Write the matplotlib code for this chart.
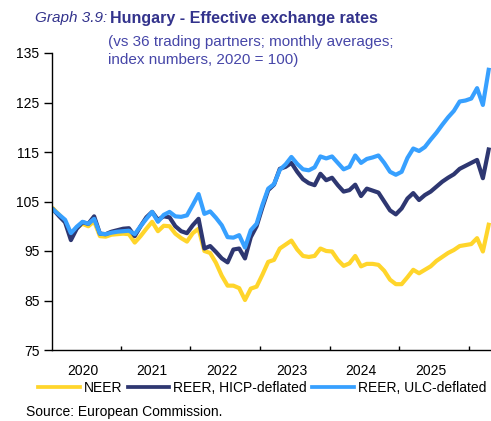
import numpy as np
import matplotlib.pyplot as plt

plt.rcParams['font.family'] = ['Liberation Sans', 'DejaVu Sans']

# monthly data, Jan 2020 onwards (2020 = 100)
years = ['2020', '2021', '2022', '2023', '2024', '2025']

neer = [103.5, 102.3, 101.0, 98.2, 99.7, 100.5, 100.0, 101.0, 98.0, 97.9,
        98.3, 98.4, 98.5, 98.4, 96.7, 98.0, 99.5, 100.9, 99.0, 100.1,
        100.0, 98.5, 97.6, 96.9, 98.6, 99.5, 95.0, 94.6, 92.6, 90.0,
        88.0, 88.0, 87.5, 85.1, 87.4, 87.8, 90.2, 92.8, 93.2, 95.5,
        96.3, 97.1, 95.3, 94.0, 93.8, 94.0, 95.5, 95.0, 94.9, 93.2,
        92.0, 92.5, 94.0, 91.9, 92.4, 92.4, 92.2, 91.0, 89.2, 88.3,
        88.3, 89.7, 91.2, 90.5, 91.2, 91.9, 93.0, 93.8, 94.6, 95.2,
        96.0, 96.2, 96.4, 97.6, 94.9, 100.3]

reer_hicp = [103.3, 102.0, 100.8, 97.2, 99.5, 100.8, 100.5, 102.0, 98.5, 98.4,
             98.9, 99.2, 99.5, 99.6, 98.0, 100.0, 101.8, 102.9, 101.3, 102.0,
             101.8, 100.0, 99.0, 98.6, 100.2, 101.5, 95.5, 96.0, 94.8, 93.5,
             92.7, 95.3, 95.5, 93.5, 97.8, 100.0, 103.8, 107.3, 108.4, 111.6,
             112.0, 112.8, 111.0, 109.5, 108.7, 108.3, 110.6, 109.3, 109.8, 108.3,
             107.0, 107.3, 108.4, 106.1, 107.6, 107.2, 106.8, 105.0, 103.2, 102.4,
             103.6, 105.6, 106.7, 105.3, 106.3, 107.0, 108.0, 109.0, 109.8, 110.5,
             111.6, 112.2, 112.8, 113.4, 109.7, 115.5]

reer_ulc = [103.3, 102.3, 101.3, 98.6, 99.9, 100.9, 100.5, 101.5, 98.5, 98.4,
            98.7, 98.9, 99.0, 99.1, 98.4, 100.0, 101.5, 102.9, 100.9, 102.3,
            102.9, 102.0, 101.9, 102.2, 104.3, 106.5, 102.5, 103.0, 101.7, 100.2,
            97.8, 97.7, 98.2, 95.7, 99.2, 100.5, 104.3, 107.6, 108.5, 111.4,
            112.5, 114.0, 112.6, 111.5, 111.3, 111.9, 114.1, 113.7, 114.1, 112.8,
            111.5, 112.0, 114.3, 112.8, 113.6, 113.9, 114.3, 112.8, 111.0, 110.4,
            111.0, 113.8, 115.7, 115.2, 116.0, 117.5, 118.9, 120.5, 122.0, 123.3,
            125.2, 125.4, 125.8, 127.9, 124.5, 131.6]

months = np.arange(len(neer))

fig = plt.figure(figsize=(4.91, 4.21), dpi=100)
ax = fig.add_axes([52 / 491, 71 / 421, 439 / 491, 297 / 421])

ax.plot(months, neer, color='#FFD52B', lw=3, solid_joinstyle='round', label='NEER')
ax.plot(months, reer_hicp, color='#2E3771', lw=3, solid_joinstyle='round',
        label='REER, HICP-deflated')
ax.plot(months, reer_ulc, color='#37A0FF', lw=3, solid_joinstyle='round',
        label='REER, ULC-deflated')

ax.set_ylim(75, 135)
ax.set_yticks(range(75, 136, 10))
ax.set_xlim(-0.26, 75.4)

ax.set_xticks([5 + 12 * i for i in range(len(years))])
ax.set_xticklabels(years)
ax.set_xticks([11.6 + 12 * i for i in range(len(years))], minor=True)
ax.tick_params(axis='x', which='major', length=0, pad=10, labelsize=10)
ax.tick_params(axis='x', which='minor', direction='in', length=3, width=1)
ax.tick_params(axis='y', direction='out', length=6, width=1, pad=3, labelsize=10)

for s in ['top', 'right']:
    ax.spines[s].set_visible(False)
for s in ['left', 'bottom']:
    ax.spines[s].set_linewidth(1)

leg = fig.legend(loc='center', bbox_to_anchor=(0.534, 1 - 388 / 421), ncol=3,
                 frameon=False, fontsize=10, handlelength=3, handletextpad=0.3,
                 columnspacing=0.35, borderaxespad=0, borderpad=0)
for line in leg.get_lines():
    line.set_linewidth(2.7)

fig.text(35 / 491, 1 - 18 / 421, 'Graph 3.9:', style='italic', fontsize=11,
         color='#33338C', va='center')
fig.text(110 / 491, 1 - 18 / 421, 'Hungary - Effective exchange rates',
         fontweight='bold', fontsize=11.5, color='#33338C', va='center')
fig.text(108 / 491, 1 - 42 / 421, '(vs 36 trading partners; monthly averages;',
         fontsize=11, color='#4646A8', va='center')
fig.text(108 / 491, 1 - 60 / 421, 'index numbers, 2020 = 100)',
         fontsize=11, color='#4646A8', va='center')

fig.text(26 / 491, 1 - 412 / 421, 'Source: European Commission.', fontsize=10,
         va='center')

fig.savefig('out.png', dpi=100)
